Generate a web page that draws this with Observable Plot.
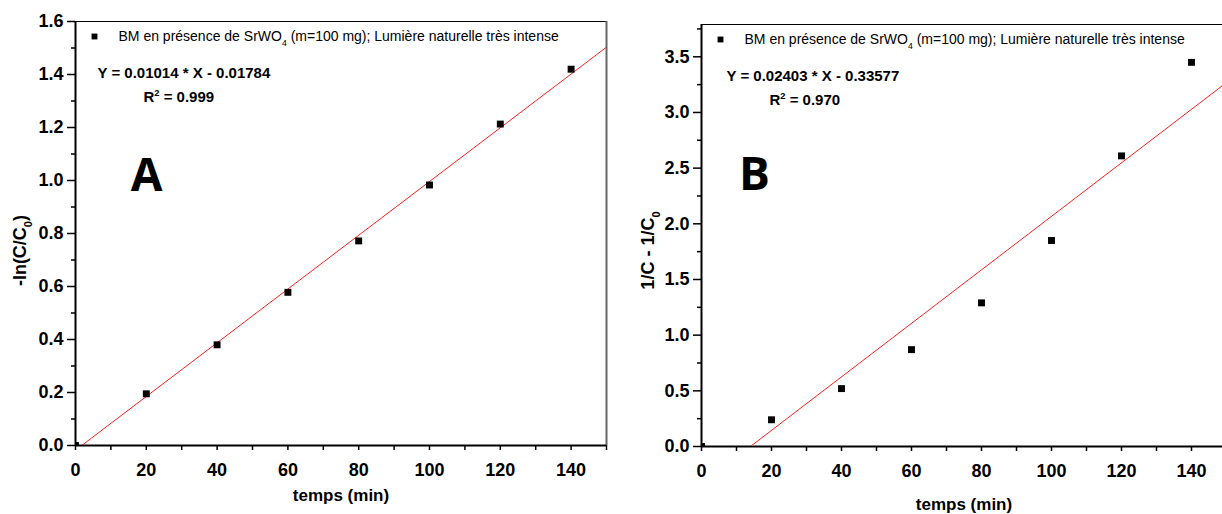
<!DOCTYPE html>
<html>
<head>
<meta charset="utf-8">
<script src="https://cdn.jsdelivr.net/npm/d3@7"></script>
<script src="https://cdn.jsdelivr.net/npm/@observablehq/plot@0.6"></script>
<style>
html, body { margin: 0; padding: 0; background: #fff; width: 1222px; height: 514px; overflow: hidden; }
#wrap { position: relative; width: 1222px; height: 514px; overflow: hidden; }
.panel { position: absolute; top: 0; width: 615px; height: 514px; }
.panel svg { max-width: none !important; }
</style>
</head>
<body>
<div id="wrap"><div class="panel" id="pa" style="left:0px"></div><div class="panel" id="pb" style="left:615px"></div></div>
<script>
// ---- data ----
const times = [0, 20, 40, 60, 80, 100, 120, 140];
const lnValues = [0, 0.195, 0.38, 0.578, 0.772, 0.983, 1.213, 1.42];
const invValues = [0, 0.24, 0.52, 0.87, 1.29, 1.85, 2.61, 3.45];
const slopeA = 0.01014, interceptA = -0.01784;
const slopeB = 0.02403, interceptB = -0.33577;
const fitX = [0, 150];
const xTicks = [0, 20, 40, 60, 80, 100, 120, 140];
const xMinor = [10, 30, 50, 70, 90, 110, 130, 150];
const yTicksA = [0, 0.2, 0.4, 0.6, 0.8, 1.0, 1.2, 1.4, 1.6];
const yMinorA = [0.1, 0.3, 0.5, 0.7, 0.9, 1.1, 1.3, 1.5];
const yTicksB = [0, 0.5, 1.0, 1.5, 2.0, 2.5, 3.0, 3.5];
const yMinorB = [0.25, 0.75, 1.25, 1.75, 2.25, 2.75, 3.25, 3.75];
const legendText = "BM en présence de SrWO_{4} (m=100 mg); Lumière naturelle très intense";
const eqA = "Y = 0.01014 * X - 0.01784", r2A = "R^{2} = 0.999";
const eqB = "Y = 0.02403 * X - 0.33577", r2B = "R^{2} = 0.970";
const xLabel = "temps (min)";
const yLabelA = "-ln(C/C_{0})", yLabelB = "1/C - 1/C_{0}";
const letterA = "A", letterB = "B";

const FONT = "'Liberation Sans', Arial, Helvetica, sans-serif";

function panel(o) {
  const pts = times.map((t, i) => ({t, v: o.values[i]}));
  const fit = fitX.map(x => ({x, y: o.slope * x + o.intercept}));
  return Plot.plot({
    width: o.width, height: 514,
    marginLeft: o.ml, marginRight: o.mr, marginTop: o.mt, marginBottom: o.mb,
    x: {domain: [0, 150]},
    y: {domain: [0, o.ymax]},
    style: {fontFamily: FONT, background: "transparent", color: "black", overflow: "visible", maxWidth: "none"},
    marks: [
      Plot.axisX({ticks: xTicks, tickSize: 5, tickPadding: 13, tickFormat: d => String(d), label: null,
                  fontSize: 18, fontWeight: "bold", strokeWidth: 1.5}),
      Plot.axisX({ticks: xMinor, tickSize: 5, tickFormat: () => "", label: null, strokeWidth: 1.5}),
      Plot.axisY({ticks: o.yTicks, tickSize: 8, tickPadding: 4, tickFormat: d3.format(".1f"), label: null,
                  fontSize: 18, fontWeight: "bold", strokeWidth: 1.5}),
      Plot.axisY({ticks: o.yMinor, tickSize: 4, tickFormat: () => "", label: null, strokeWidth: 1.5}),
      Plot.ruleY([o.ymax], {stroke: "black", strokeWidth: 1.2}),
      Plot.ruleX([150], {stroke: "#666", strokeWidth: 2}),
      Plot.ruleX([0], {stroke: "black", strokeWidth: 2}),
      Plot.ruleY([0], {stroke: "black", strokeWidth: 2}),
      Plot.line(fit, {x: "x", y: "y", stroke: "#ff1f1f", strokeWidth: 1, clip: true}),
      Plot.dot(pts, {x: "t", y: "v", symbol: "square", r: 3.9, fill: "black", clip: true}),
      // legend
      Plot.dot([0], {frameAnchor: "top-left", dx: 19, dy: 15, symbol: "square", r: 3.3, fill: "black"}),
      Plot.text([legendText], {frameAnchor: "top-left", dx: 43, dy: 15, textAnchor: "start", lineAnchor: "middle", fontSize: 14}),
      // equation
      Plot.text([o.eq], {frameAnchor: "top-left", dx: o.eqDx, dy: 52, textAnchor: "start", lineAnchor: "middle", fontSize: 15, fontWeight: "bold"}),
      Plot.text([o.r2], {frameAnchor: "top-left", dx: o.r2Dx, dy: 76, textAnchor: "start", lineAnchor: "middle", fontSize: 15, fontWeight: "bold"}),
      // panel letter
      Plot.text([o.letter], {frameAnchor: "top-left", dx: o.letterDx, dy: o.letterDy, textAnchor: "middle", lineAnchor: "middle",
                             fontSize: 46, fontWeight: "bold", fontFamily: "'Open Sans', 'Liberation Sans', sans-serif"}),
      // axis titles
      Plot.text([xLabel], {frameAnchor: "bottom", dy: o.xlDy, textAnchor: "middle", lineAnchor: "middle", fontSize: 17, fontWeight: "bold"}),
      Plot.text([o.ylabel], {frameAnchor: "left", dx: o.ylDx, dy: o.ylDy, rotate: -90, textAnchor: "middle", lineAnchor: "middle", fontSize: 18, fontWeight: "bold"})
    ]
  });
}

function richify(svg) {
  svg.querySelectorAll("text").forEach(t => {
    const s = t.textContent;
    if (!/[_^]\{/.test(s)) return;
    const fs = parseFloat(getComputedStyle(t).fontSize) || 14;
    const parts = s.split(/([_^]\{[^}]*\})/).filter(p => p);
    while (t.firstChild) t.removeChild(t.firstChild);
    let shift = 0;
    for (const p of parts) {
      const ts = document.createElementNS("http://www.w3.org/2000/svg", "tspan");
      let target = 0, txt = p;
      if (p.startsWith("_{")) { target = 0.33 * fs; txt = p.slice(2, -1); ts.setAttribute("font-size", (0.62 * fs).toFixed(1)); }
      else if (p.startsWith("^{")) { target = -0.42 * fs; txt = p.slice(2, -1); ts.setAttribute("font-size", (0.62 * fs).toFixed(1)); }
      if (target !== shift) { ts.setAttribute("dy", (target - shift).toFixed(2)); shift = target; }
      ts.textContent = txt;
      t.appendChild(ts);
    }
  });
}

const svgA = panel({
  values: lnValues, slope: slopeA, intercept: interceptA, ymax: 1.6,
  yTicks: yTicksA, yMinor: yMinorA, eq: eqA, r2: r2A, letter: letterA,
  width: 615, ml: 75, mr: 9, mt: 21, mb: 69,
  eqDx: 22, r2Dx: 68, letterDx: 71, letterDy: 155, xlDy: 50, ylDx: -55, ylDy: 17, ylabel: yLabelA
});
const svgB = panel({
  values: invValues, slope: slopeB, intercept: interceptB, ymax: 3.79,
  yTicks: yTicksB, yMinor: yMinorB, eq: eqB, r2: r2B, letter: letterB,
  width: 615, ml: 86, mr: 4, mt: 24, mb: 68,
  eqDx: 25, r2Dx: 68, letterDx: 53, letterDy: 151, xlDy: 58, ylDx: -53, ylDy: 15, ylabel: yLabelB
});
document.getElementById("pa").appendChild(svgA);
document.getElementById("pb").appendChild(svgB);
richify(svgA);
richify(svgB);
</script>
</body>
</html>
